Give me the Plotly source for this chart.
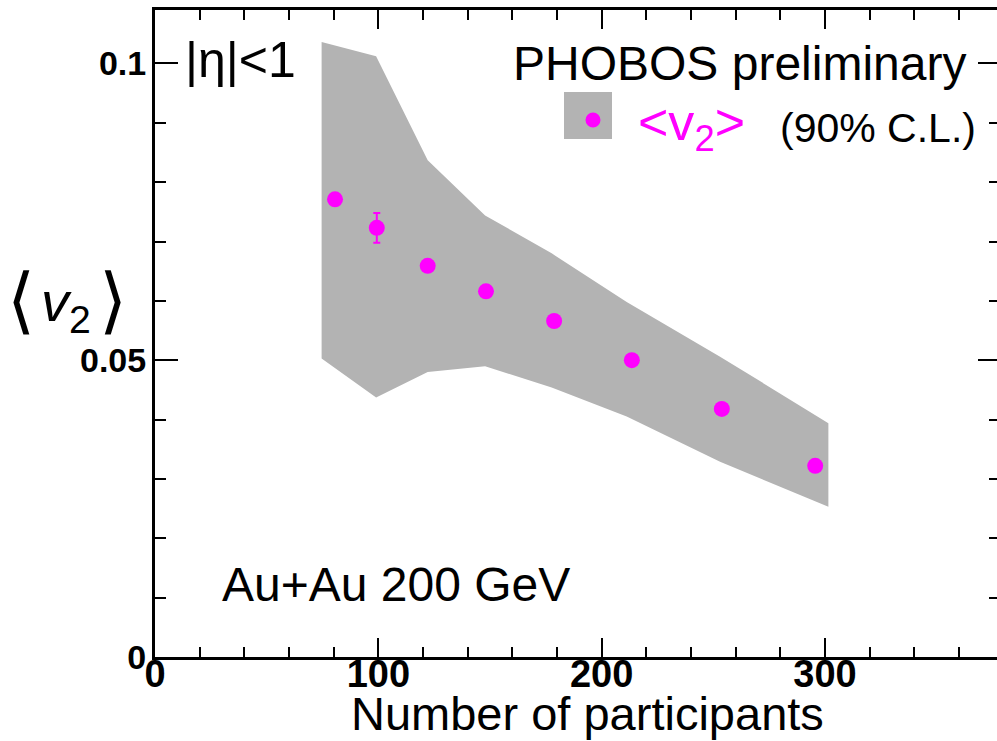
import plotly.graph_objects as go

# ---- data ----
npart = [80.6, 99.3, 122.1, 148.2, 178.7, 213.5, 253.8, 295.6]
v2 = [0.0771, 0.0723, 0.0659, 0.0616, 0.0566, 0.0500, 0.0418, 0.0322]
v2_err = [0, 0.0025, 0, 0, 0, 0, 0, 0]

band_x = [74.6, 99.0, 122.1, 147.8, 177.6, 211.2, 253.0, 301.5]
band_upper = [0.1036, 0.1012, 0.0837, 0.0744, 0.0680, 0.0598, 0.0506, 0.0394]
band_lower = [0.0503, 0.0437, 0.0480, 0.0490, 0.0454, 0.0405, 0.0329, 0.0253]

x_tickvals = [0, 100, 200, 300]
x_ticktext = ["<b>0</b>", "<b>100</b>", "<b>200</b>", "<b>300</b>"]
y_tickvals = [0, 0.05, 0.1]
y_ticktext = ["<b>0</b>", "<b>0.05</b>", "<b>0.1</b>"]

# ---- layout geometry (pixels) ----
W, H = 997, 741
L, R, T, B = 155, 997, 10, 657
PW, PH = R - L, B - T

def px(xp):
    return (xp - L) / PW

def py(yp):
    return (B - yp) / PH

FONT = "Liberation Sans, Arial, Helvetica, sans-serif"
GRAY = "#b3b3b3"
MAG = "#ff00ff"

fig = go.Figure()

fig.add_trace(go.Scatter(
    x=band_x + band_x[::-1],
    y=band_upper + band_lower[::-1],
    fill="toself", fillcolor=GRAY, mode="lines",
    line=dict(width=0, color=GRAY), hoverinfo="skip", showlegend=False,
))

fig.add_trace(go.Scatter(
    x=npart, y=v2, mode="markers",
    marker=dict(size=16, color=MAG, line=dict(width=0)),
    error_y=dict(type="data", array=v2_err, visible=True, color=MAG,
                 thickness=2, width=3.5),
    showlegend=False,
))

# invisible trace for right-side ticks axis
fig.add_trace(go.Scatter(x=[0], y=[0], yaxis="y2", mode="markers",
                         marker=dict(opacity=0), showlegend=False, hoverinfo="skip"))

fig.update_layout(
    width=W, height=H,
    margin=dict(l=L, r=W - R, t=T, b=H - B),
    plot_bgcolor="white", paper_bgcolor="white",
    font=dict(family=FONT, color="black"),
    showlegend=False,
    xaxis=dict(
        range=[0, 377], showgrid=False, zeroline=False,
        showline=True, linewidth=3, linecolor="black", mirror="ticks",
        ticks="inside", ticklen=19, tickwidth=2, tickcolor="black",
        tickvals=x_tickvals, ticktext=x_ticktext,
        tickfont=dict(family=FONT, size=38, color="black"),
        ticklabelstandoff=-19,
        minor=dict(dtick=20, tick0=0, ticks="inside", ticklen=10,
                   tickwidth=1.5, tickcolor="black", showgrid=False),
    ),
    yaxis=dict(
        range=[0, 0.109], showgrid=False, zeroline=False,
        showline=True, linewidth=3, linecolor="black",
        ticks="inside", ticklen=23, tickwidth=2, tickcolor="black",
        tickvals=y_tickvals, ticktext=y_ticktext,
        tickfont=dict(family=FONT, size=34, color="black"),
        ticklabelstandoff=-1,
        minor=dict(dtick=0.01, tick0=0, ticks="inside", ticklen=11,
                   tickwidth=1.5, tickcolor="black", showgrid=False),
    ),
    yaxis2=dict(
        range=[0, 0.109], overlaying="y", side="right", showgrid=False,
        zeroline=False, showline=False, showticklabels=False,
        ticks="inside", ticklen=19, tickwidth=1.5, tickcolor="black",
        tickvals=y_tickvals,
        minor=dict(dtick=0.01, tick0=0, ticks="inside", ticklen=8,
                   tickwidth=1.5, tickcolor="black", showgrid=False),
    ),
)

def text(s, xp, yp, size, color="black", xanchor="left", yanchor="middle"):
    fig.add_annotation(text=s, x=px(xp), y=py(yp), xref="paper", yref="paper",
                       xanchor=xanchor, yanchor=yanchor, showarrow=False,
                       font=dict(family=FONT, size=size, color=color))

text("|η|<1", 183, 60, 50)
text("PHOBOS preliminary", 511, 63, 48)
text("&lt;v<sub>2</sub>&gt;", 636, 126, 52, color=MAG)
text("(90% C.L.)", 778, 128, 41)
text("Au+Au 200 GeV", 220, 584, 48)
text("Number of participants", 587, 713, 47, xanchor="center")
# y-axis title pieces
text("⟨", 21, 300, 72, xanchor="center")
text("<i>v</i><sub>2</sub>", 66, 305, 56, xanchor="center")
text("⟩", 113, 300, 72, xanchor="center")

# legend key
fig.add_shape(type="rect", xref="paper", yref="paper",
              x0=px(564), x1=px(612), y0=py(139), y1=py(92),
              fillcolor=GRAY, line=dict(width=0))
fig.add_shape(type="circle", xref="paper", yref="paper",
              x0=px(585.5), x1=px(600.5), y0=py(127.5), y1=py(112.5),
              fillcolor=MAG, line=dict(width=0))

fig.write_html("out.html")
